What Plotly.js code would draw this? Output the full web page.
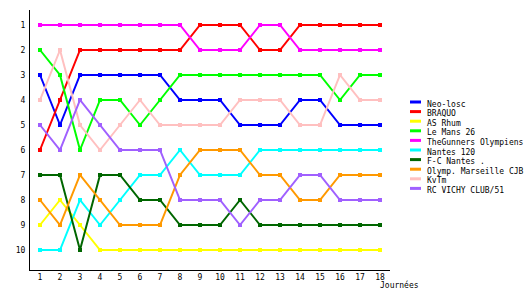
<!DOCTYPE html>
<html>
<head>
<meta charset="utf-8">
<script src="https://cdn.plot.ly/plotly-3.0.1.min.js"></script>
<style>html,body{margin:0;padding:0;background:#fff;}#chart{width:530px;height:300px;}</style>
</head>
<body>
<div id="chart"></div>
<script>
var journees = [1,2,3,4,5,6,7,8,9,10,11,12,13,14,15,16,17,18];
var teamNames = ["Neo-losc","BRAQUO","AS Rhum","Le Mans 26","TheGunners Olympiens","Nantes 120","F-C Nantes .","Olymp. Marseille CJB","KvTm","RC VICHY CLUB/51"];
var teamColors = ["#0000ff","#ff0000","#ffff00","#00ff00","#ff00ff","#00ffff","#006600","#ff9900","#ffc0c0","#a060ff"];
var neoLosc     = [3,5,3,3,3,3,3,4,4,4,5,5,5,4,4,5,5,5];
var braquo      = [6,4,2,2,2,2,2,2,1,1,1,2,2,1,1,1,1,1];
var asRhum      = [9,8,9,10,10,10,10,10,10,10,10,10,10,10,10,10,10,10];
var leMans26    = [2,3,6,4,4,5,4,3,3,3,3,3,3,3,3,4,3,3];
var gunners     = [1,1,1,1,1,1,1,1,2,2,2,1,1,2,2,2,2,2];
var nantes120   = [10,10,8,9,8,7,7,6,7,7,7,6,6,6,6,6,6,6];
var fcNantes    = [7,7,10,7,7,8,8,9,9,9,8,9,9,9,9,9,9,9];
var olympMars   = [8,9,7,8,9,9,9,7,6,6,6,7,7,8,8,7,7,7];
var kvtm        = [4,2,5,6,5,4,5,5,5,5,4,4,4,5,5,3,4,4];
var rcVichy     = [5,6,4,5,6,6,6,8,8,8,9,8,8,7,7,8,8,8];
var rankTicks = [1,2,3,4,5,6,7,8,9,10];

var series = [neoLosc,braquo,asRhum,leMans26,gunners,nantes120,fcNantes,olympMars,kvtm,rcVichy];
var font = "DejaVu Sans Mono, monospace";

var traces = series.map(function(s,i){
  return {x: journees, y: s, name: teamNames[i], type:'scatter', mode:'lines+markers',
    line:{color: teamColors[i], width:2}, marker:{color: teamColors[i], size:4, symbol:'square'},
    showlegend:false, hoverinfo:'skip'};
});

var shapes = [], annotations = [];
var legTop = 102, legStep = 9.6;
teamNames.forEach(function(n,i){
  var yy = legTop + i*legStep;
  shapes.push({type:'line', xref:'paper', yref:'paper',
    x0:(410-30)/360, x1:(421-30)/360, y0:1-(yy-10)/260, y1:1-(yy-10)/260,
    line:{color:teamColors[i], width:3}});
  annotations.push({xref:'paper', yref:'paper', x:(425-30)/360, y:1-(yy+2-10)/260,
    xanchor:'left', yanchor:'middle', text:n, showarrow:false,
    font:{family:font, size:8, color:'#000'}});
});
annotations.push({xref:'paper', yref:'paper', x:(378-30)/360, y:1-(285-10)/260,
  xanchor:'left', yanchor:'middle', text:'Journées', showarrow:false,
  font:{family:font, size:8, color:'#000'}});

var layout = {
  width:530, height:300,
  margin:{l:30, r:140, t:10, b:30},
  paper_bgcolor:'#fff', plot_bgcolor:'#fff',
  showlegend:false,
  font:{family:font, size:8, color:'#000'},
  xaxis:{range:[0.5,18.5], tickvals:journees, ticktext:journees.map(String), showgrid:false, zeroline:false,
    showline:true, linecolor:'#000', linewidth:1, ticks:'', ticklabelstandoff:-1,
    tickfont:{family:font, size:8, color:'#000'}},
  yaxis:{range:[10.8,0.4], tickvals:rankTicks, ticktext:rankTicks.map(String), showgrid:false, zeroline:false,
    showline:true, linecolor:'#000', linewidth:1, ticks:'', ticklabelstandoff:2,
    tickfont:{family:font, size:8, color:'#000'}},
  shapes:shapes, annotations:annotations
};
Plotly.newPlot('chart', traces, layout, {staticPlot:true, displayModeBar:false});
</script>
</body>
</html>
